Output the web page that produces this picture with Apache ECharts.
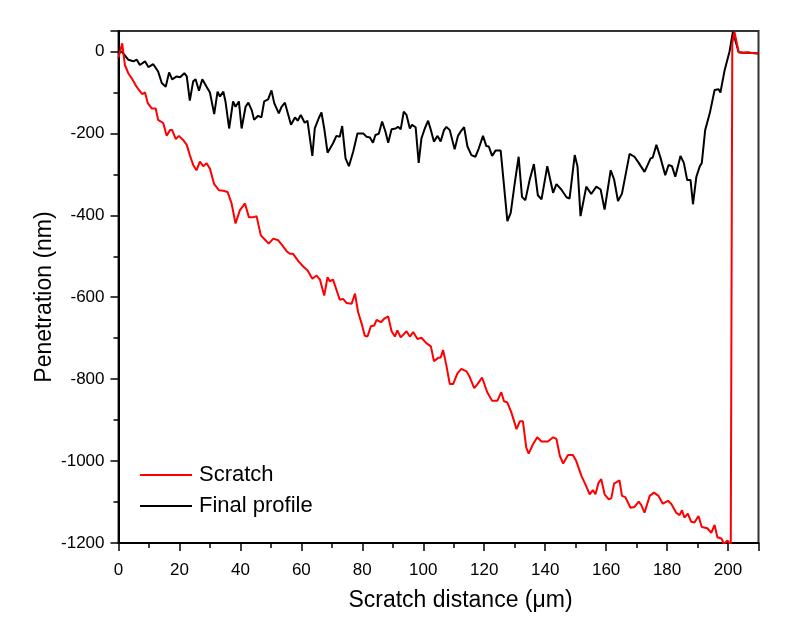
<!DOCTYPE html>
<html>
<head>
<meta charset="utf-8">
<script src="https://cdn.jsdelivr.net/npm/echarts@6/dist/echarts.min.js"></script>
<style>
    html, body { margin: 0; padding: 0; background: #fff; }
    #chartsdiv { width: 795px; height: 627px; }
</style>
</head>
<body>
<div id="chartsdiv"></div>
<script>
// Scratch curve (x in um, penetration in nm)
var scratchX = [0, 1.2, 2.1, 3.2, 4.3, 5.6, 6.7, 7.8, 8.7, 9.6, 10.9, 12.2, 13, 13.9, 14.7, 15.8, 16.9, 17.6, 18.8, 19.8,
    21.2, 22.4, 23.4, 24.5, 25.6, 26.7, 27.8, 28.9, 30, 31.4, 33, 34.4, 35.8, 37.1, 38.4, 39.8, 41.5, 42.8, 44.2, 45.3,
    46.7, 48, 49.3, 50.8, 52.4, 53.7, 55.1, 56.2, 57.3, 59, 60.6, 62, 63.6, 65, 66.1, 67.5, 68.6, 69.3, 70.4, 72.6,
    73.7, 74.8, 76.5, 77.6, 78.6, 79.8, 80.8, 81.7, 82.8, 83.9, 84.7, 86.1, 87.1, 88.5, 89.6, 90.7, 91.5, 92.6, 94.5, 95.6,
    96.7, 98.1, 99.4, 101, 102.5, 103.5, 104.9, 105.7, 106.5, 107.6, 108.7, 109.8, 111.2, 112.5, 114.2, 115.2, 116.7, 117.8, 119.3, 121,
    122.6, 124.3, 125.6, 126.5, 127.6, 128.9, 130.6, 131.7, 132.7, 133.8, 134.6, 136, 137.4, 138.8, 140.9, 142.6, 143.7, 144.8, 145.9, 147.5,
    149.1, 150.2, 151.9, 153.2, 154.6, 155.7, 156.5, 157.5, 158.4, 159.5, 160.8, 161.7, 162.6, 164.4, 165.2, 166.3, 168, 169.3, 170.7, 171.5,
    172.6, 174.3, 175.7, 177.2, 178.6, 180.3, 181.4, 183, 184.1, 184.9, 185.7, 186.8, 187.9, 189, 190.3, 191.4, 193.2, 194.5, 195.6, 196.5,
    197.8, 198.7, 199.8, 200.9, 201.2, 201.4, 202.1, 203.5, 205, 206.5, 208, 210];
var scratchY = [-15, 20, -33, -53, -65, -82, -94, -104, -100, -126, -139, -139, -167, -171, -175, -206, -192, -192, -214, -206,
    -216, -228, -253, -277, -290, -269, -280, -273, -286, -324, -339, -340, -343, -371, -420, -388, -371, -405, -405, -402,
    -449, -459, -469, -457, -461, -473, -487, -494, -494, -512, -525, -534, -555, -547, -557, -596, -551, -561, -557, -606,
    -604, -614, -616, -591, -636, -665, -694, -696, -671, -669, -655, -661, -653, -647, -683, -696, -681, -698, -683, -696,
    -685, -702, -699, -712, -720, -756, -748, -747, -729, -767, -812, -812, -786, -775, -781, -794, -822, -812, -796, -832,
    -853, -853, -832, -854, -857, -881, -922, -903, -903, -967, -982, -959, -942, -952, -952, -942, -946, -987, -1006, -985,
    -985, -1000, -1036, -1057, -1081, -1071, -1081, -1053, -1044, -1081, -1093, -1091, -1055, -1047, -1085, -1088, -1114, -1112, -1099, -1107,
    -1126, -1085, -1077, -1085, -1104, -1097, -1105, -1126, -1132, -1120, -1138, -1128, -1148, -1150, -1134, -1161, -1164, -1175, -1156, -1186,
    -1189, -1202, -1194, -1204, -1204, 20, 48, -2, -3, -2, -4, -5];

// Final profile curve
var profileX = [0, 1, 3.2, 4.9, 6, 7, 8.7, 9.8, 11.4, 13, 14.2, 15.5, 16.6, 17.6, 19.1, 20.2, 21.6, 22.4, 23.4, 24.5,
    25.3, 26.4, 27.5, 28.9, 30, 31.4, 32.5, 33.3, 34.4, 35.1, 36.3, 37.6, 38.4, 39.5, 40.4, 41.7, 42.6, 43.7, 44.5, 45.8,
    46.9, 47.8, 49.1, 50.2, 51.1, 52.6, 53.5, 54.6, 56.6, 57.9, 58.8, 59.8, 61.1, 62, 63.6, 64.4, 65.7, 66.6, 67.5, 68.6,
    70.4, 71.5, 72.6, 73.4, 74.5, 75.6, 77, 78.4, 80.3, 81.4, 82.5, 83.5, 84.3, 85.4, 86.5, 87.6, 88.5, 89.6, 90.9, 91.7,
    92.6, 93.6, 94.5, 95.6, 96.3, 97.5, 98.5, 99.4, 100.5, 101.6, 102.5, 103.5, 104.7, 105.7, 106.8, 107.6, 108.7, 110.3, 111.4, 112.5,
    113.4, 114.5, 115.8, 117.1, 118.2, 119.6, 120.7, 121.5, 122.6, 123.7, 125.4, 127.6, 128.7, 130, 131.3, 132.4, 133.5, 134.9, 136.3, 137.6,
    138.8, 140.7, 142.6, 143.7, 145.3, 147, 148, 149.7, 150.6, 151.6, 153.5, 155.1, 156.8, 158.2, 159.5, 161.5, 162.6, 163.9, 165.2, 167.7,
    169.3, 170.7, 172.6, 174.6, 175.3, 176.5, 177.9, 179.4, 180.5, 181.6, 182.7, 184.4, 185.5, 186.6, 187.7, 188.5, 189.6, 190.7, 191.4, 192.5,
    194, 195.6, 196.9, 197.5, 198.9, 200.5, 201.6, 203.5, 205, 207, 210];
var profileY = [-5, 0, -20, -24, -20, -33, -24, -38, -31, -49, -77, -86, -51, -68, -61, -63, -53, -61, -120, -73,
    -68, -96, -68, -86, -100, -153, -98, -110, -98, -122, -188, -122, -135, -122, -188, -135, -125, -143, -167, -157,
    -161, -122, -117, -95, -126, -151, -135, -125, -179, -161, -169, -155, -174, -169, -255, -188, -163, -149, -188, -247,
    -224, -206, -208, -182, -261, -280, -245, -200, -200, -208, -210, -223, -204, -201, -171, -196, -223, -190, -188, -184,
    -190, -147, -155, -188, -179, -185, -272, -212, -188, -169, -192, -220, -206, -220, -192, -184, -192, -239, -206, -193,
    -185, -232, -253, -257, -237, -206, -231, -232, -255, -242, -242, -414, -394, -322, -257, -355, -363, -314, -275, -351,
    -361, -280, -345, -324, -337, -356, -359, -253, -280, -402, -330, -348, -330, -337, -386, -290, -312, -365, -347, -250,
    -257, -272, -294, -261, -259, -228, -261, -302, -277, -280, -306, -255, -272, -314, -314, -373, -306, -281, -272, -192,
    -151, -94, -92, -100, -45, 0, 48, -2, -3, -3, -5];

// 组合成 [x, y] 数据
function zip(xs, ys) {
    var out = [];
    for (var i = 0; i < xs.length; i++) {
        out.push([xs[i], ys[i]]);
    }
    return out;
}

var myChart = echarts.init(document.getElementById('chartsdiv'));
var fontName = 'Liberation Sans';
var option = {
    backgroundColor: '#ffffff',
    animation: false,
    grid: {
        left: 118.5,
        right: 36.5,
        top: 31,
        bottom: 84,
        show: true,
        borderColor: '#333',
        borderWidth: 2
    },
    legend: {
        data: ['Scratch', 'Final profile'],
        orient: 'vertical',
        left: 135,
        top: 459,
        icon: 'rect',
        itemWidth: 52,
        itemHeight: 2,
        itemGap: 9,
        textStyle: { fontFamily: fontName, fontSize: 22, color: '#000', padding: [0, 0, 0, 2] }
    },
    xAxis: {
        type: 'value',
        min: 0,
        max: 210,
        interval: 20,
        name: 'Scratch distance (μm)',
        nameLocation: 'middle',
        nameGap: 46,
        nameMoveOverlap: false,
        nameTextStyle: { fontFamily: fontName, fontSize: 23, color: '#000', padding: [0, 0, 0, 44] },
        axisLine: { onZero: false, lineStyle: { color: '#000', width: 2 } },
        axisTick: { inside: false, length: 8, lineStyle: { color: '#000', width: 1.5 } },
        minorTick: { show: true, splitNumber: 2, length: 5, lineStyle: { color: '#000', width: 1.5 } },
        axisLabel: { fontFamily: fontName, fontSize: 17, color: '#000', margin: 19, showMaxLabel: false },
        splitLine: { show: false }
    },
    yAxis: {
        type: 'value',
        min: -1200,
        max: 50,
        interval: 200,
        name: 'Penetration (nm)',
        nameLocation: 'middle',
        nameGap: 62,
        nameMoveOverlap: false,
        nameTextStyle: { fontFamily: fontName, fontSize: 23, color: '#000', padding: [0, 20, 0, 0] },
        axisLine: { onZero: false, lineStyle: { color: '#000', width: 2 } },
        axisTick: { inside: false, length: 8, lineStyle: { color: '#000', width: 1.5 } },
        minorTick: { show: true, splitNumber: 2, length: 5, lineStyle: { color: '#000', width: 1.5 } },
        axisLabel: {
            fontFamily: fontName, fontSize: 17, color: '#000', margin: 14, showMaxLabel: false,
            formatter: function (v) { return String(v); }
        },
        splitLine: { show: false }
    },
    series: [
        {
            name: 'Final profile',
            type: 'line',
            data: zip(profileX, profileY),
            showSymbol: false,
            symbol: 'none',
            color: '#000000',
            lineStyle: { color: '#000000', width: 2 }
        },
        {
            name: 'Scratch',
            type: 'line',
            data: zip(scratchX, scratchY),
            showSymbol: false,
            symbol: 'none',
            color: '#ff0000',
            lineStyle: { color: '#ff0000', width: 2 }
        }
    ]
};
myChart.setOption(option);
</script>
</body>
</html>
